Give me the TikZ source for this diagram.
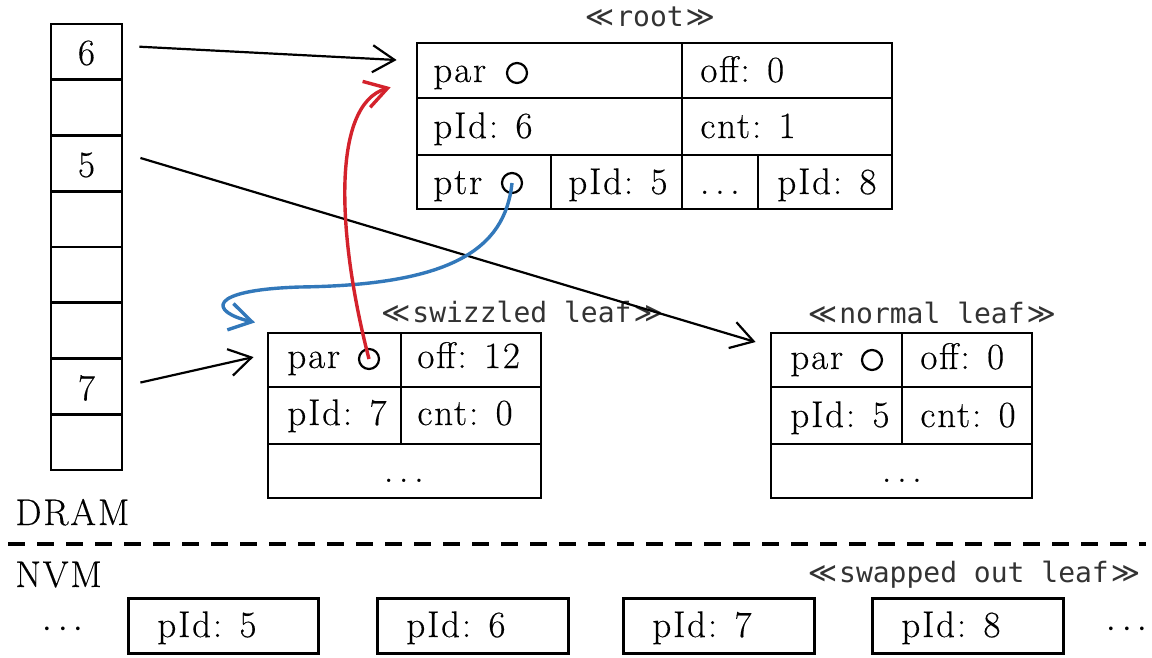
\documentclass[tikz,border=0pt]{standalone}
\usepackage{fontspec}
\setmainfont{Latin Modern Roman}[LetterSpace=5,FakeBold=0.35]
\newfontfamily\tagmono{DejaVu Sans Mono}
\newfontfamily\tagsym{DejaVu Sans}
\usetikzlibrary{arrows.meta,fit}
\definecolor{ptrred}{RGB}{212,34,44}
\definecolor{ptrblue}{RGB}{50,120,186}
\newcommand\stereo[1]{{\tagsym ≪}\kern1pt#1\kern1pt{\tagsym ≫}}
\newcommand\cellfont{\fontsize{18.5}{22}\selectfont}
\tikzset{
  cellbox/.style={draw, line width=1.4pt, inner sep=0pt},
  celltext/.style={anchor=base west, inner sep=0pt, font=\cellfont},
  celldots/.style={anchor=base, inner sep=0pt, font=\cellfont},
  ptrdot/.style={circle, draw, line width=1.1pt, minimum size=10pt, inner sep=0pt},
  tagtext/.style={anchor=base, inner sep=0pt, text=black!80, font=\tagmono\fontsize{14}{16}\selectfont},
  nvmbox/.style={draw, line width=1.5pt, inner sep=0pt},
  barbtip/.style={-{Straight Barb[length=11pt,width=13.5pt]}},
  blackarrow/.style={barbtip, line width=1.1pt, line join=round},
  redarrow/.style={barbtip, draw=ptrred, line width=1.7pt},
  bluearrow/.style={barbtip, draw=ptrblue, line width=1.7pt},
  sepline/.style={line width=2.2pt, dash pattern=on 8.5pt off 6pt},
}
\begin{document}
\begin{tikzpicture}[x=0.5pt, y=-0.5pt]
\useasboundingbox (0,0) rectangle (1152,658);
\fill[white] (0,0) rectangle (1152,658);

% DRAM page table: eight slots
\foreach \i in {1,...,8}{
  \node[cellbox, fit={(51,{24+(\i-1)*55.75}) (122,{24+\i*55.75})}] (d\i) {};
}
\node[celldots, anchor=center] (d1t) at (86.5,53) {6};
\node[celldots, anchor=center] (d3t) at (86.5,165) {5};
\node[celldots, anchor=center] (d7t) at (86.5,388) {7};

% root node
\node[tagtext] (roottag) at (650,27) {\stereo{root}};
\node[cellbox, fit={(417,43) (682,98)}] (rpar) {};
\node[cellbox, fit={(682,43) (892,98)}] (roff) {};
\node[cellbox, fit={(417,98) (682,155)}] (rpid) {};
\node[cellbox, fit={(682,98) (892,155)}] (rcnt) {};
\node[cellbox, fit={(417,155) (551,209)}] (rptr) {};
\node[cellbox, fit={(551,155) (682,209)}] (rp5) {};
\node[cellbox, fit={(682,155) (758,209)}] (rmid) {};
\node[cellbox, fit={(758,155) (892,209)}] (rp8) {};
\node[celltext] (rpart) at (433,82) {par};
\node[ptrdot] (rparc) at (517,73) {};
\node[celltext] (rofft) at (700,82) {off: 0};
\node[celltext] (rpidt) at (433,138) {pId: 6};
\node[celltext] (rcntt) at (700,138) {cnt: 1};
\node[celltext] (rptrt) at (433,194) {ptr};
\node[ptrdot] (rptrc) at (512,183) {};
\node[celltext] (rp5t) at (568,194) {pId: 5};
\node[celldots] (rmidt) at (720,194) {$\ldots$};
\node[celltext] (rp8t) at (777,194) {pId: 8};

% swizzled leaf
\node[tagtext] (swtag) at (522,322) {\stereo{swizzled leaf}};
\node[cellbox, fit={(268,333) (401,387)}] (spar) {};
\node[cellbox, fit={(401,333) (541,387)}] (soff) {};
\node[cellbox, fit={(268,387) (401,444)}] (spid) {};
\node[cellbox, fit={(401,387) (541,444)}] (scnt) {};
\node[cellbox, fit={(268,444) (541,498)}] (srest) {};
\node[celltext] (spart) at (287,368) {par};
\node[ptrdot] (sparc) at (369,359) {};
\node[celltext] (sofft) at (417,368) {off: 12};
\node[celltext] (spidt) at (287,425) {pId: 7};
\node[celltext] (scntt) at (417,425) {cnt: 0};
\node[celldots] (srestt) at (404,482) {$\ldots$};

% normal leaf
\node[tagtext] (nltag) at (932,323) {\stereo{normal leaf}};
\node[cellbox, fit={(771,333) (902,387)}] (npar) {};
\node[cellbox, fit={(902,333) (1032,387)}] (noff) {};
\node[cellbox, fit={(771,387) (902,444)}] (npid) {};
\node[cellbox, fit={(902,387) (1032,444)}] (ncnt) {};
\node[cellbox, fit={(771,444) (1032,498)}] (nrest) {};
\node[celltext] (npart) at (790,369) {par};
\node[ptrdot] (nparc) at (872,360) {};
\node[celltext] (nofft) at (920,369) {off: 0};
\node[celltext] (npidt) at (790,427) {pId: 5};
\node[celltext] (ncntt) at (920,427) {cnt: 0};
\node[celldots] (nrestt) at (902,482) {$\ldots$};

% memory boundary
\node[celltext] (dram) at (15,525) {DRAM};
\coordinate (sepl) at (8,544);
\coordinate (sepr) at (1146,544);
\draw[sepline] (sepl) -- (sepr);
\node[celltext] (nvm) at (15,587) {NVM};

% pages on NVM
\node[tagtext] (swaptag) at (974,582) {\stereo{swapped out leaf}};
\node[celldots] (nvmdl) at (63,637) {$\cdots$};
\node[nvmbox, fit={(128,598) (318,653)}] (n5) {};
\node[nvmbox, fit={(377,598) (568,653)}] (n6) {};
\node[nvmbox, fit={(623,598) (814,653)}] (n7) {};
\node[nvmbox, fit={(872,598) (1063,653)}] (n8) {};
\node[celltext] (n5t) at (157,637) {pId: 5};
\node[celltext] (n6t) at (406,637) {pId: 6};
\node[celltext] (n7t) at (652,637) {pId: 7};
\node[celltext] (n8t) at (901,637) {pId: 8};
\node[celldots] (nvmdr) at (1127,637) {$\cdots$};

% page table entries pointing at cached pages
\draw[blackarrow, shorten <=8pt, shorten >=9.5pt] ([yshift=3pt]d1.east) -- ([yshift=4.75pt]rpar.west);
\draw[blackarrow, shorten <=8.9pt, shorten >=7.3pt] ([yshift=5.25pt]d3.east) -- ([yshift=6.9pt]npar.west);
\draw[blackarrow, shorten <=8.7pt, shorten >=6.7pt] (d7.east) -- ([yshift=2.95pt]spar.west);

% swizzled child pointer and parent pointer
\draw[bluearrow, shorten >=7pt] (rptrc.center) .. controls (505,250) and (450,285) .. (300,287)
  .. controls (205,290) and (210,312) .. ([xshift=1pt,yshift=3pt]spar.north west);
\draw[redarrow, shorten >=13pt] (sparc.center) .. controls (338,240) and (330,105) .. ([yshift=-4.75pt]rpar.west);
\end{tikzpicture}
\end{document}
